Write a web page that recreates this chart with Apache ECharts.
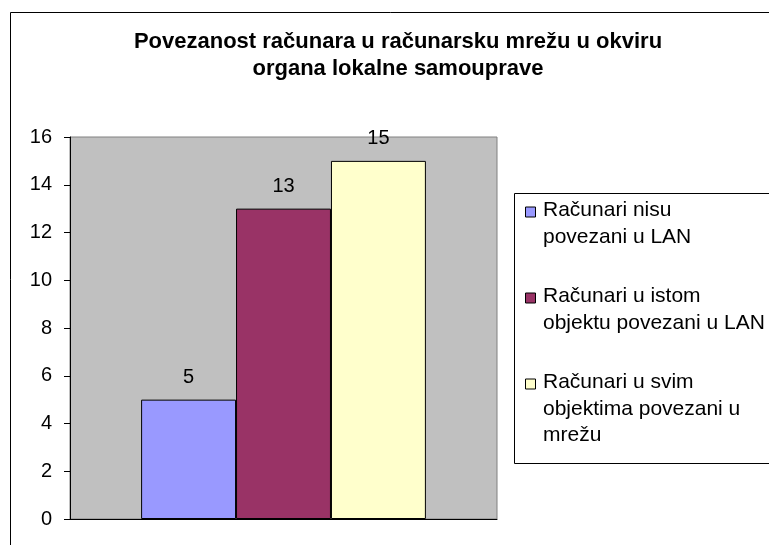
<!DOCTYPE html>
<html>
<head>
<meta charset="utf-8">
<title>Povezanost računara</title>
<script src="https://cdn.jsdelivr.net/npm/echarts/dist/echarts.min.js"></script>
<style>
	html, body { margin: 0; padding: 0; background: #fff; }
	#chart { width: 769px; height: 545px; }
</style>
</head>
<body>
<div id="chart"></div>
<script>
	// podaci
	var categories = [''];
	var seriesNames = [
		'Računari nisu\npovezani u LAN',
		'Računari u istom\nobjektu povezani u LAN',
		'Računari u svim\nobjektima povezani u\nmrežu'
	];
	var seriesValues = [[5], [13], [15]];
	var seriesColors = ['#9999FF', '#993366', '#FFFFCC'];
	var yTicks = [0, 2, 4, 6, 8, 10, 12, 14, 16];

	var font = 'Liberation Sans, Arial, sans-serif';

	/**
	 * series - jedan stubac po seriji
	 */
	var series = seriesNames.map(function (name, i) {
		return {
			name: name,
			type: 'bar',
			data: seriesValues[i],
			barGap: '0%',
			barCategoryGap: '33.3%',
			itemStyle: {
				color: seriesColors[i],
				borderColor: '#000',
				borderWidth: 1
			},
			label: {
				show: true,
				position: 'top',
				distance: 12,
				color: '#000',
				fontFamily: font,
				fontSize: 20
			}
		};
	});

	/**
	 * legenda - ikona uz prvi red teksta
	 */
	var legendItems = [];
	legendItems.push({
		type: 'rect',
		shape: { x: 514.5, y: 193.5, width: 400, height: 270 },
		style: { fill: '#fff', stroke: '#000', lineWidth: 1 }
	});
	seriesNames.forEach(function (name, i) {
		var y = 210.5 + i * 86;
		legendItems.push({
			type: 'rect',
			shape: { x: 525.5, y: y - 3.5, width: 10, height: 10 },
			style: { fill: seriesColors[i], stroke: '#000', lineWidth: 1 }
		});
		legendItems.push({
			type: 'text',
			x: 543,
			y: y - 13.25,
			style: {
				text: name,
				fill: '#000',
				font: '21px ' + font,
				lineHeight: 26.5,
				verticalAlign: 'top'
			}
		});
	});

	var option = {
		animation: false,
		backgroundColor: '#fff',
		title: {
			text: 'Povezanost računara u računarsku mrežu u okviru\norgana lokalne samouprave',
			left: 398,
			top: 28,
			padding: 0,
			textAlign: 'center',
			textStyle: {
				fontFamily: font,
				fontSize: 22,
				fontWeight: 'bold',
				color: '#000',
				lineHeight: 27
			}
		},
		grid: {
			left: 70,
			right: 272,
			top: 137,
			bottom: 26,
			show: true,
			backgroundColor: '#C0C0C0',
			borderColor: '#808080',
			borderWidth: 1
		},
		xAxis: {
			type: 'category',
			data: categories,
			axisLine: { show: true, lineStyle: { color: '#000', width: 1 } },
			axisTick: { show: false },
			axisLabel: { show: false },
			splitLine: { show: false }
		},
		yAxis: {
			type: 'value',
			min: yTicks[0],
			max: yTicks[yTicks.length - 1],
			interval: 2,
			axisLine: { show: true, lineStyle: { color: '#000', width: 1 } },
			axisTick: { show: true, length: 6, lineStyle: { color: '#000' } },
			axisLabel: {
				color: '#000',
				fontFamily: font,
				fontSize: 20,
				margin: 18
			},
			splitLine: { show: false }
		},
		graphic: [
			{
				type: 'rect',
				z: -10,
				shape: { x: 10.5, y: 12.5, width: 900, height: 700 },
				style: { fill: 'none', stroke: '#000', lineWidth: 1 }
			},
			{
				type: 'group',
				children: legendItems
			}
		],
		series: series
	};

	var myChart = echarts.init(document.getElementById('chart'), null, { renderer: 'canvas' });
	myChart.setOption(option);
</script>
</body>
</html>
